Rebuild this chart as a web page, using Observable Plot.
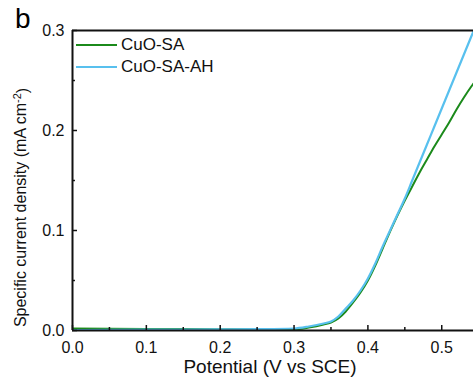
<!DOCTYPE html>
<html><head><meta charset="utf-8">
<script src="https://cdn.jsdelivr.net/npm/d3@7"></script>
<script src="https://cdn.jsdelivr.net/npm/@observablehq/plot@0.6"></script>
<style>
body{margin:0;background:#fff;font-family:"Liberation Sans",Arial,sans-serif;}
#wrap{position:relative;width:473px;height:381px;overflow:hidden;}
#panel{position:absolute;left:15px;top:3px;font-size:28px;line-height:32px;color:#000;z-index:2;}
#legend{position:absolute;left:76px;top:34px;font-size:17px;color:#111;}
#legend div{display:flex;align-items:center;height:22px;}
#legend span.sw{display:inline-block;width:41px;height:0;border-top:2.2px solid;margin-right:4px;}
</style></head>
<body><div id="wrap"><div id="panel">b</div><div id="legend"></div></div>
<script>
const seriesNames = ["CuO-SA", "CuO-SA-AH"];
const seriesColors = ["#1b8a1b", "#58c0ee"];
const potential = [0, 0.05, 0.1, 0.15, 0.2, 0.25, 0.3, 0.32, 0.34, 0.35, 0.36, 0.37, 0.38, 0.39, 0.40, 0.41, 0.42, 0.43, 0.44, 0.45, 0.46, 0.47, 0.48, 0.49, 0.50, 0.51, 0.52, 0.53, 0.54, 0.55];
const cuoSA   = [0.002, 0.0018, 0.0015, 0.0014, 0.0013, 0.0012, 0.0012, 0.003, 0.006, 0.008, 0.012, 0.019, 0.028, 0.038, 0.050, 0.065, 0.082, 0.099, 0.115, 0.130, 0.144, 0.158, 0.171, 0.184, 0.196, 0.208, 0.221, 0.233, 0.244, 0.254];
const cuoSAAH = [0.0004, 0.0006, 0.0008, 0.001, 0.0012, 0.0014, 0.002, 0.004, 0.007, 0.009, 0.014, 0.022, 0.030, 0.040, 0.052, 0.067, 0.084, 0.100, 0.116, 0.132, 0.150, 0.168, 0.186, 0.204, 0.222, 0.240, 0.258, 0.276, 0.294, 0.312];
const xMajor = [0, 0.1, 0.2, 0.3, 0.4, 0.5];
const xMinor = [0.05, 0.15, 0.25, 0.35, 0.45];
const yMajor = [0, 0.1, 0.2, 0.3];
const yMinor = [0.05, 0.15, 0.25];
const xLabel = "Potential (V vs SCE)";
const yLabel = "Specific current density (mA cm-2)";

const data = [];
potential.forEach((p, i) => {
  data.push({x: p, y: cuoSA[i], s: seriesNames[0]});
  data.push({x: p, y: cuoSAAH[i], s: seriesNames[1]});
});

const font = "Liberation Sans, Arial, sans-serif";
const chart = Plot.plot({
  width: 473, height: 381,
  marginLeft: 72, marginTop: 30, marginBottom: 51, marginRight: 0,
  style: {fontFamily: font, fontSize: "16px", color: "#111", background: "transparent"},
  x: {domain: [0, 0.543]},
  y: {domain: [0, 0.3]},
  color: {domain: seriesNames, range: seriesColors},
  marks: [
    Plot.axisX({ticks: xMajor, tickSize: 0, tickPadding: 11, tickFormat: d3.format(".1f"), label: null, fontSize: 16}),
    Plot.axisY({ticks: yMajor, tickSize: 0, tickPadding: 8, tickFormat: d3.format(".1f"), label: null, fontSize: 16}),
    Plot.line(data.filter(d => d.s === seriesNames[0]), {x: "x", y: "y", stroke: "s", strokeWidth: 2, curve: "monotone-x", clip: true}),
    Plot.line(data.filter(d => d.s === seriesNames[1]), {x: "x", y: "y", stroke: "s", strokeWidth: 2.2, curve: "monotone-x", clip: true}),
    Plot.ruleX(xMajor, {x: d => d, y1: 0, y2: 0.005, stroke: "#111", strokeWidth: 1.5}),
    Plot.ruleX(xMinor, {x: d => d, y1: 0, y2: 0.003, stroke: "#111", strokeWidth: 1.5}),
    Plot.ruleY(yMajor, {y: d => d, x1: 0, x2: 0.0068, stroke: "#111", strokeWidth: 1.5}),
    Plot.ruleY(yMinor, {y: d => d, x1: 0, x2: 0.004, stroke: "#111", strokeWidth: 1.5}),
    Plot.ruleX([0], {stroke: "#111", strokeWidth: 2}),
    Plot.ruleY([0, 0.3], {stroke: "#111", strokeWidth: 2}),
    Plot.text([xLabel], {frameAnchor: "bottom", text: d => d, dy: 42, dx: -3, fontSize: 19, fill: "#111"}),
    Plot.text([yLabel], {frameAnchor: "left", text: d => d, textAnchor: "middle", rotate: -90, dx: -52, dy: 27, fontSize: 16, fill: "#111"})
  ]
});
document.getElementById("wrap").prepend(chart);
chart.style.position = "absolute"; chart.style.left = "0"; chart.style.top = "0";
// superscript for cm-2
d3.select(chart).selectAll("text").each(function() {
  const t = d3.select(this);
  if (t.text() === yLabel) {
    t.text(null);
    t.append("tspan").text("Specific current density (mA cm");
    t.append("tspan").attr("dy", "-0.45em").attr("font-size", "11px").text("-2");
    t.append("tspan").attr("dy", "0.45em").text(")");
  }
});
const leg = document.getElementById("legend");
seriesNames.forEach((n, i) => {
  const row = document.createElement("div");
  row.innerHTML = `<span class="sw" style="border-color:${seriesColors[i]}"></span>${n}`;
  leg.appendChild(row);
});
</script></body></html>
